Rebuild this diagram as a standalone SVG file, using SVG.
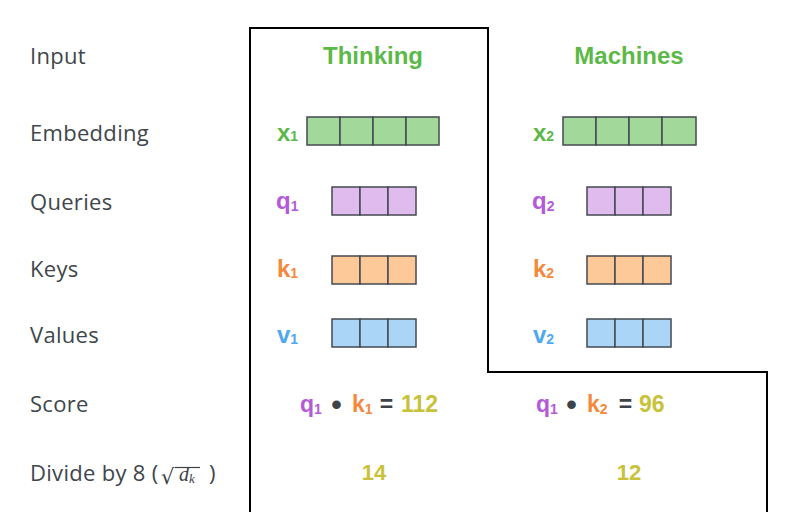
<svg xmlns="http://www.w3.org/2000/svg" width="792" height="512" viewBox="0 0 792 512">
<style>
.lbl{font-family:"Open Sans","Liberation Sans",sans-serif;font-size:22px;font-weight:500;fill:#40464c;letter-spacing:0.3px}
.b{font-family:"Liberation Sans",Arial,sans-serif;font-weight:bold}
.w{font-size:24px}
.s{font-size:14px}
.g{fill:#5cb948}.p{fill:#b45ad8}.o{fill:#f5883a}.bl{fill:#4ea9f0}.y{fill:#c8c23a}.d{fill:#3e4349}
.cell{stroke:#444a50;stroke-width:1.5}
.fg{fill:#a3d89b}.fp{fill:#dfbbee}.fo{fill:#fdc999}.fb{fill:#abd5f7}
</style>
<rect width="792" height="512" fill="#fff"/>
<g id="labels">
<text class="lbl" x="30" y="64">Input</text>
<text class="lbl" x="30" y="141">Embedding</text>
<text class="lbl" x="30" y="210">Queries</text>
<text class="lbl" x="30" y="277">Keys</text>
<text class="lbl" x="30" y="343">Values</text>
<text class="lbl" x="30" y="412">Score</text>
<text class="lbl" x="30" y="481">Divide by 8 (</text>
<text x="161" y="484" font-family="DejaVu Serif,serif" font-size="21" fill="#3d4247">√</text>
<line x1="175" y1="467.5" x2="200" y2="467.5" stroke="#3d4247" stroke-width="1.2"/>
<text x="179" y="481" font-family="Liberation Serif,serif" font-style="italic" font-size="20" fill="#3d4247">d<tspan font-size="13" dy="2">k</tspan></text>
<text class="lbl" x="209" y="481">)</text>
</g>
<g id="outline">
<polyline points="250,512 250,28 488,28 488,372 767,372 767,512" fill="none" stroke="#000" stroke-width="2"/>
</g>
<g id="thinking">
<text class="b g w" x="373" y="64" text-anchor="middle">Thinking</text>
<text class="b g" x="277" y="141" font-size="24">x<tspan class="s">1</tspan></text>
<g class="cell fg"><rect x="307" y="117" width="33" height="28"/><rect x="340" y="117" width="33" height="28"/><rect x="373" y="117" width="33" height="28"/><rect x="406" y="117" width="33" height="28"/></g>
<text class="b p" x="276" y="209" font-size="24">q<tspan class="s" dy="2">1</tspan></text>
<g class="cell fp"><rect x="332" y="187" width="28" height="28"/><rect x="360" y="187" width="28" height="28"/><rect x="388" y="187" width="28" height="28"/></g>
<text class="b o" x="277" y="277" font-size="24">k<tspan class="s" dy="1">1</tspan></text>
<g class="cell fo"><rect x="332" y="256" width="28" height="28"/><rect x="360" y="256" width="28" height="28"/><rect x="388" y="256" width="28" height="28"/></g>
<text class="b bl" x="277" y="343" font-size="24">v<tspan class="s" dy="1">1</tspan></text>
<g class="cell fb"><rect x="332" y="319" width="28" height="28"/><rect x="360" y="319" width="28" height="28"/><rect x="388" y="319" width="28" height="28"/></g>
<g class="b" font-size="23">
<text class="p" x="300" y="412">q<tspan class="s" dy="2">1</tspan></text>
<text class="d" x="336.5" y="415" text-anchor="middle" font-size="30">•</text>
<text class="o" x="352" y="412">k<tspan class="s" dy="2">1</tspan></text>
<text class="d" x="386.5" y="412" text-anchor="middle">=</text>
<text class="y" x="401" y="412">112</text>
</g>
<text class="b y" x="374" y="480" font-size="22" text-anchor="middle">14</text>
</g>
<g id="machines">
<text class="b g w" x="629" y="64" text-anchor="middle">Machines</text>
<text class="b g" x="533" y="141" font-size="24">x<tspan class="s">2</tspan></text>
<g class="cell fg"><rect x="563" y="117" width="33" height="28"/><rect x="596" y="117" width="33" height="28"/><rect x="629" y="117" width="33" height="28"/><rect x="662" y="117" width="34" height="28"/></g>
<text class="b p" x="532" y="209" font-size="24">q<tspan class="s" dy="2">2</tspan></text>
<g class="cell fp"><rect x="587" y="187" width="28" height="28"/><rect x="615" y="187" width="28" height="28"/><rect x="643" y="187" width="28" height="28"/></g>
<text class="b o" x="533" y="277" font-size="24">k<tspan class="s" dy="1">2</tspan></text>
<g class="cell fo"><rect x="587" y="256" width="28" height="28"/><rect x="615" y="256" width="28" height="28"/><rect x="643" y="256" width="28" height="28"/></g>
<text class="b bl" x="533" y="343" font-size="24">v<tspan class="s" dy="1">2</tspan></text>
<g class="cell fb"><rect x="587" y="319" width="28" height="28"/><rect x="615" y="319" width="28" height="28"/><rect x="643" y="319" width="28" height="28"/></g>
<g class="b" font-size="23">
<text class="p" x="536" y="412">q<tspan class="s" dy="2">1</tspan></text>
<text class="d" x="571.5" y="415" text-anchor="middle" font-size="30">•</text>
<text class="o" x="587" y="412">k<tspan class="s" dy="2">2</tspan></text>
<text class="d" x="625.5" y="412" text-anchor="middle">=</text>
<text class="y" x="639" y="412">96</text>
</g>
<text class="b y" x="629" y="480" font-size="22" text-anchor="middle">12</text>
</g>
</svg>
